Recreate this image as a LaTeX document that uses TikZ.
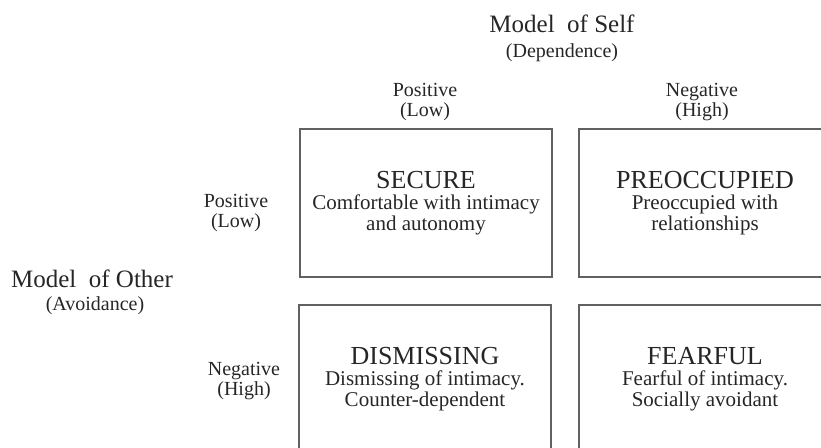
\documentclass[tikz,border=0pt]{standalone}
\usepackage{fontspec}
\setmainfont{Liberation Serif}
\tikzset{
    quad/.style ={
        shape=rectangle,
        draw=black!62,
        line width=1.3pt,
        minimum width=252pt,
        minimum height=148pt,
        align=center,
        text=black!85,
        font=\fontsize{21}{21}\selectfont
    },
    sidelabel/.style ={
        align=center,
        text=black!85,
        font=\fontsize{20}{20}\selectfont
    },
    bigtitle/.style ={
        anchor=base,
        text=black!85,
        font=\fontsize{25}{25}\selectfont
    },
    subtitle/.style ={
        anchor=base,
        text=black!85,
        font=\fontsize{20}{20}\selectfont
    }
}
\newcommand\quadname[1]{{\fontsize{26}{28}\selectfont #1}}

\begin{document}
\begin{tikzpicture}[x=1pt,y=-1pt]
    \useasboundingbox (0,0) rectangle (821,447);
    \clip (0,0) rectangle (821,447);
    % axis titles
    \node[bigtitle] (self) at (562,32) {Model\enspace of Self};
    \node[subtitle] (dependence) at (562,57) {(Dependence)};
    \node[bigtitle] (other) at (92,287) {Model\enspace of Other};
    \node[subtitle] (avoidance) at (95,310) {(Avoidance)};
    % levels
    \node[sidelabel] (selfpos) at (425,102) {Positive\\(Low)};
    \node[sidelabel] (selfneg) at (702,102) {Negative\\(High)};
    \node[sidelabel] (otherpos) at (236,213) {Positive\\(Low)};
    \node[sidelabel] (otherneg) at (244,381) {Negative\\(High)};
    % the four styles
    \node[quad] (secure) at (426,203) {\quadname{SECURE}\\Comfortable with intimacy\\and autonomy};
    \node[quad] (preoccupied) at (705,203) {\quadname{PREOCCUPIED}\\Preoccupied with\\relationships};
    \node[quad] (dismissing) at (425,379) {\quadname{DISMISSING}\\Dismissing of intimacy.\\Counter-dependent};
    \node[quad] (fearful) at (705,379) {\quadname{FEARFUL}\\Fearful of intimacy.\\Socially avoidant};
\end{tikzpicture}
\end{document}
